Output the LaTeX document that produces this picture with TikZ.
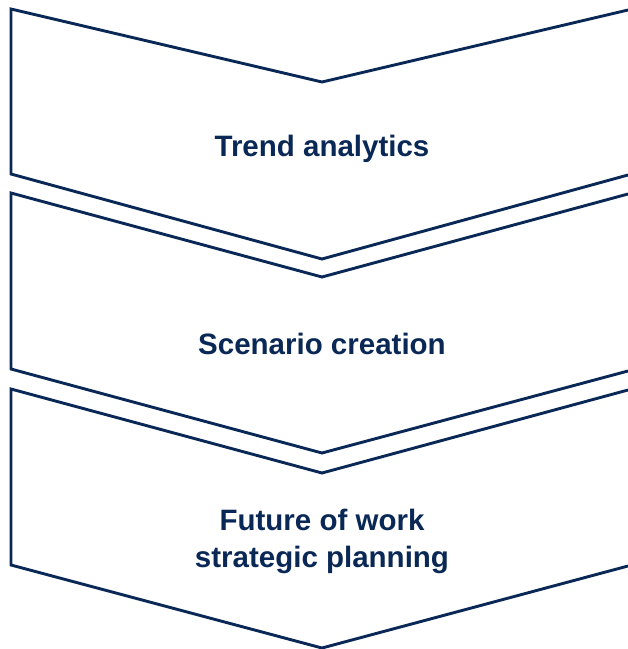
\documentclass[tikz,border=0pt]{standalone}
\usepackage{fontspec}
\setmainfont{Liberation Sans}
\usetikzlibrary{positioning}
\definecolor{navy}{RGB}{10,40,86}

\begin{document}
\begin{tikzpicture}[x=1pt,y=-1pt,line join=miter,line cap=square,
  chev/.style={draw=navy,line width=2.9pt},
  steptext/.style={text=navy,font=\fontsize{29.5}{37}\selectfont\bfseries,align=center,inner sep=0pt}]
  \useasboundingbox (0,0) rectangle (628,649);

  % First step
  \draw[chev] (628,10) -- (322,82) -- (11,9) -- (11,174) -- (322,259) -- (628,175);
  \node[steptext,anchor=base] (trend) at (322,156) {Trend analytics};

  % Second step
  \draw[chev] (628,194) -- (322,277) -- (11,193) -- (11,369) -- (322,453) -- (628,371);
  \node[steptext,anchor=base] (scenario) at (322,354) {Scenario creation};

  % Third step
  \draw[chev] (628,390) -- (322,473) -- (11,389) -- (11,565) -- (322,648) -- (628,566);
  \node[steptext] (future) at (322,541.5) {Future of work\\strategic planning};
\end{tikzpicture}
\end{document}
